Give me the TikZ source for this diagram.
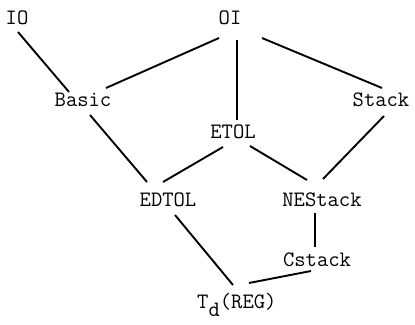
\documentclass[tikz,border=0pt]{standalone}
\usetikzlibrary{calc}
\begin{document}
\begin{tikzpicture}[x=1pt,y=-1pt,
  lbl/.style={inner sep=0pt,font=\ttfamily\fontsize{22}{22}\selectfont},
  edge/.style={line width=1.9pt}]
\useasboundingbox (0,0) rectangle (415,324);
\node[lbl] (IO) at (17,18) {IO};
\node[lbl] (OI) at (230,18) {OI};
\node[lbl] (Basic) at (83,100) {Basic};
\node[lbl] (Stack) at (381,100) {Stack};
\node[lbl] (ETOL) at (233,132) {ETOL};
\node[lbl] (EDTOL) at (168,200) {EDTOL};
\node[lbl] (NEStack) at (322,200) {NEStack};
\node[lbl] (Cstack) at (317,260) {Cstack};
\node[lbl,anchor=base west] (Td) at (197,308) {T\raisebox{-0.9ex}{d}(REG)};
\draw[edge] ($(IO)+(1,14)$) -- ($(Basic)+(-14,-8)$);
\draw[edge] ($(OI)+(-11,20)$) -- ($(Basic)+(23,-12)$);
\draw[edge] ($(OI)+(7,22)$) -- ($(ETOL)+(4,-12)$);
\draw[edge] ($(OI)+(32,20)$) -- ($(Stack)+(1,-12)$);
\draw[edge] ($(Basic)+(7,15)$) -- ($(EDTOL)+(-21,-18)$);
\draw[edge] ($(ETOL)+(-10,15)$) -- ($(EDTOL)+(-5,-18)$);
\draw[edge] ($(ETOL)+(17,14)$) -- ($(NEStack)+(-15,-20)$);
\draw[edge] ($(Stack)+(3,16)$) -- ($(NEStack)+(1,-21)$);
\draw[edge] ($(EDTOL)+(7,15)$) -- ($(Td.base west)+(36,-23)$);
\draw[edge] ($(NEStack)+(-7,13)$) -- ($(Cstack)+(-2,-13)$);
\draw[edge] ($(Td.base west)+(52,-25)$) -- ($(Cstack)+(-6,11)$);
\end{tikzpicture}
\end{document}
